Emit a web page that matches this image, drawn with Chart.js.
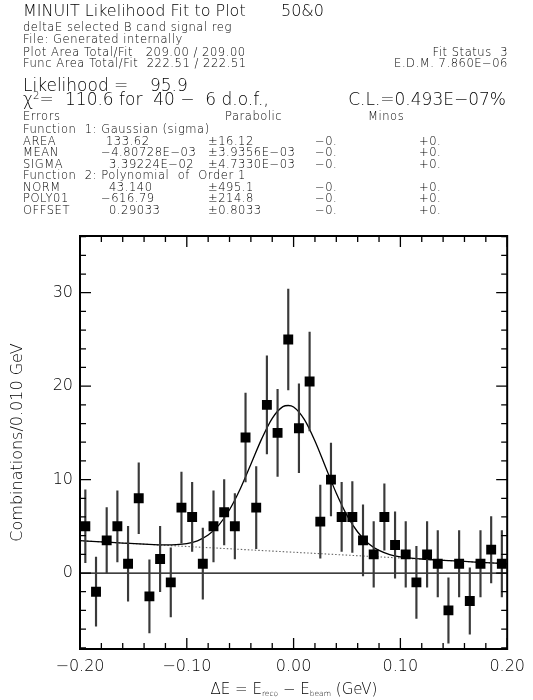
<!DOCTYPE html>
<html><head><meta charset="utf-8">
<script src="https://cdn.jsdelivr.net/npm/chart.js@4/dist/chart.umd.min.js"></script>
<style>
html,body{margin:0;padding:0;background:#fff;}
#wrap{position:relative;width:533px;height:700px;overflow:hidden;font-family:"DejaVu Sans",sans-serif;font-weight:200;color:#000;}
#wrap canvas{position:absolute;left:0;top:0;}
.t{position:absolute;white-space:pre;line-height:1;}
sub{font-size:0.5em;vertical-align:-0.25em;}
sup{font-size:0.6em;vertical-align:0.55em;line-height:0;}
</style></head><body>
<div id="wrap"><canvas id="c" width="533" height="700"></canvas></div>
<script>
// ---- data ----
const binCenters = [-0.195,-0.185,-0.175,-0.165,-0.155,-0.145,-0.135,-0.125,-0.115,-0.105,
                    -0.095,-0.085,-0.075,-0.065,-0.055,-0.045,-0.035,-0.025,-0.015,-0.005,
                     0.005, 0.015, 0.025, 0.035, 0.045, 0.055, 0.065, 0.075, 0.085, 0.095,
                     0.105, 0.115, 0.125, 0.135, 0.145, 0.155, 0.165, 0.175, 0.185, 0.195];
const counts = [5,-2,3.5,5,1,8,-2.5,1.5,-1,7,
                6,1,5,6.5,5,14.5,7,18,15,25,
                15.5,20.5,5.5,10,6,6,3.5,2,6,3,
                2,-1,2,1,-4,1,-3,1,2.5,1];
const errors = [3.9,3.7,3.5,3.8,4.0,3.8,3.9,3.5,3.7,3.8,
                3.7,3.8,3.8,3.5,3.5,4.75,4.4,5.25,4.65,5.4,
                4.75,5.3,3.9,3.9,3.7,3.8,3.8,3.5,3.55,3.55,
                3.5,3.85,3.5,3.55,3.5,3.55,3.55,3.55,3.55,3.55];
const fitX = [-0.20,-0.18,-0.16,-0.14,-0.12,-0.11,-0.10,-0.09,-0.08,-0.07,-0.06,-0.05,-0.04,-0.03,-0.02,-0.01,-0.005,
              0.00,0.01,0.02,0.03,0.04,0.05,0.06,0.07,0.08,0.09,0.10,0.12,0.14,0.16,0.18,0.20];
const fitY = [3.46,3.33,3.21,3.09,3.01,3.03,3.14,3.45,4.06,5.13,6.77,8.99,11.64,14.33,16.56,17.81,17.93,
              17.77,16.44,14.13,11.32,8.54,6.17,4.39,3.17,2.42,1.98,1.74,1.50,1.36,1.24,1.11,0.99];
const bgX = [-0.20, 0.20];
const bgY = [3.46, 0.99];
const xTickLabels = [-0.20,-0.10,0.00,0.10,0.20];
const yTickLabels = [0,10,20,30];
const xMinorTicks = [-0.18,-0.16,-0.14,-0.12,-0.08,-0.06,-0.04,-0.02,0.02,0.04,0.06,0.08,0.12,0.14,0.16,0.18];
const yMinorTicks = [-8,-6,-4,-2,2,4,6,8,12,14,16,18,22,24,26,28,32,34,36];
const xRange = [-0.20, 0.20];
const yRange = [-8.13, 36.07];

// ---- header text (layout table) ----
const fs1 = 16, fs2 = 11.5, fs3 = 17;
const header = [
  [23, 17, fs1, 'MINUIT Likelihood Fit to Plot'],
  [281, 17, fs1, '50&0'],
  [23, 31.5, fs2, 'deltaE selected B cand signal reg'],
  [23, 43.5, fs2, 'File: Generated internally'],
  [23, 56.5, fs2, 'Plot Area Total/Fit   209.00 / 209.00'],
  [508, 56.5, fs2, 'Fit Status  3', 'r'],
  [23, 67.5, fs2, 'Func Area Total/Fit  222.51 / 222.51'],
  [508, 67.5, fs2, 'E.D.M. 7.860E\u221206', 'r'],
  [23, 91, fs3, 'Likelihood =    95.9'],
  [23, 105.5, fs3, '\u03c7<sup>2</sup>=', 'h'],
  [65, 105.5, fs3, '110.6 for  40 \u2212  6 d.o.f.,'],
  [506, 105.5, fs3, 'C.L.=0.493E\u221207%', 'r'],
  [23, 121, fs2, 'Errors'],
  [225, 121, fs2, 'Parabolic'],
  [368, 121, fs2, 'Minos'],
  [23, 133.5, fs2, 'Function  1: Gaussian (sigma)'],
  [23, 180, fs2, 'Function  2: Polynomial  of  Order 1']
];
const params = [
  ['AREA', '133.62', '\u00b116.12', 145.5, 106],
  ['MEAN', '\u22124.80728E\u221203', '\u00b13.9356E\u221203', 157, 101],
  ['SIGMA', '3.39224E\u221202', '\u00b14.7330E\u221203', 168.5, 109],
  ['NORM', '43.140', '\u00b1495.1', 191.5, 109],
  ['POLY01', '\u2212616.79', '\u00b1214.8', 203, 101],
  ['OFFSET', '0.29033', '\u00b10.8033', 214.5, 109]
];
params.forEach(p => {
  header.push([23, p[3], fs2, p[0]]);
  header.push([p[4], p[3], fs2, p[1]]);
  header.push([208, p[3], fs2, p[2]]);
  header.push([315, p[3], fs2, '\u22120.']);
  header.push([419, p[3], fs2, '+0.']);
});
const wrap = document.getElementById('wrap');
header.forEach(h => {
  const [x, base, size, text, mode] = h;
  const d = document.createElement('div');
  d.className = 't';
  d.style.fontSize = size + 'px';
  if (size === fs2) d.style.letterSpacing = '0.55px';
  d.style.top = (base - 0.846 * size) + 'px';
  if (mode === 'r') { d.style.right = (533 - x) + 'px'; } else { d.style.left = x + 'px'; }
  if (mode === 'h') d.innerHTML = text; else d.textContent = text;
  wrap.appendChild(d);
});
// x-axis title
const xt = document.createElement('div');
xt.className = 't';
xt.style.fontSize = '15px';
xt.style.left = '0px'; xt.style.width = '588px'; xt.style.textAlign = 'center';
xt.style.top = (695 - 0.846 * 15) + 'px';
xt.innerHTML = '\u0394E = E<sub>reco</sub> \u2212 E<sub>beam</sub> (GeV)';
wrap.appendChild(xt);

// ---- chart ----
const fmtX = v => (v < 0 ? '\u2212' : '') + Math.abs(v).toFixed(2);
const axisFont = { family: 'DejaVu Sans', size: 16, weight: 200 };

const innerTicks = {
  id: 'innerTicks',
  afterDatasetsDraw(chart) {
    const { ctx, chartArea: a, scales: { x, y } } = chart;
    ctx.save();
    ctx.strokeStyle = '#000';
    ctx.lineWidth = 1.3;
    ctx.beginPath();
    const xt = (v, len) => { const p = x.getPixelForValue(v);
      ctx.moveTo(p, a.bottom); ctx.lineTo(p, a.bottom - len);
      ctx.moveTo(p, a.top); ctx.lineTo(p, a.top + len); };
    const yt = (v, len) => { const p = y.getPixelForValue(v);
      ctx.moveTo(a.left, p); ctx.lineTo(a.left + len, p);
      ctx.moveTo(a.right, p); ctx.lineTo(a.right - len, p); };
    xMinorTicks.forEach(v => xt(v, 6));
    xTickLabels.forEach(v => xt(v, 11));
    yMinorTicks.forEach(v => yt(v, 6));
    yTickLabels.forEach(v => yt(v, 11));
    ctx.stroke();
    ctx.lineWidth = 2;
    ctx.strokeRect(a.left, a.top, a.right - a.left, a.bottom - a.top);
    ctx.restore();
  }
};

new Chart(document.getElementById('c'), {
  type: 'scatter',
  data: {
    datasets: [
      { type: 'scatter', label: 'data',
        data: binCenters.map((c, i) => ({ x: c, y: counts[i] })),
        pointStyle: 'rect', pointRadius: 7, pointHoverRadius: 7,
        backgroundColor: '#000', borderWidth: 0, order: 0 },
      { type: 'bar', label: 'errors',
        data: binCenters.map((c, i) => ({ x: c, y: [counts[i] - errors[i], counts[i] + errors[i]] })),
        backgroundColor: '#3a3a3a', borderWidth: 0, barThickness: 1.5, order: 1 },
      { type: 'line', label: 'fit',
        data: fitX.map((v, i) => ({ x: v, y: fitY[i] })),
        borderColor: '#000', borderWidth: 1.3, pointRadius: 0, fill: false,
        cubicInterpolationMode: 'monotone', order: 2 },
      { type: 'line', label: 'background',
        data: bgX.map((v, i) => ({ x: v, y: bgY[i] })),
        borderColor: '#666', borderWidth: 1.1, borderDash: [1.5, 2], pointRadius: 0, fill: false, order: 3 },
      { type: 'line', label: 'zero',
        data: xRange.map(v => ({ x: v, y: 0 })),
        borderColor: '#000', borderWidth: 1.3, pointRadius: 0, fill: false, order: 4 }
    ]
  },
  options: {
    responsive: false, animation: false,
    layout: { padding: { top: 236, right: 25, left: 0, bottom: 0 } },
    plugins: { legend: { display: false }, tooltip: { enabled: false } },
    scales: {
      x: { type: 'linear', min: xRange[0], max: xRange[1], offset: false,
        grid: { display: false, drawTicks: false }, border: { display: false },
        afterBuildTicks: s => { s.ticks = xTickLabels.map(v => ({ value: v })); },
        afterFit: s => { s.height = 51; },
        ticks: { autoSkip: false, maxRotation: 0, padding: 8, color: '#000',
          font: axisFont, callback: v => fmtX(v) } },
      y: { type: 'linear', min: yRange[0], max: yRange[1],
        grid: { display: false, drawTicks: false }, border: { display: false },
        afterBuildTicks: s => { s.ticks = yTickLabels.map(v => ({ value: v })); },
        afterFit: s => { s.width = 80; },
        title: { display: true, text: 'Combinations/0.010 GeV', color: '#000',
          font: axisFont, padding: { top: 8, bottom: 0 } },
        ticks: { autoSkip: false, padding: 7, color: '#000',
          font: axisFont, callback: v => String(v) } }
    }
  },
  plugins: [innerTicks]
});
</script>
</body></html>
